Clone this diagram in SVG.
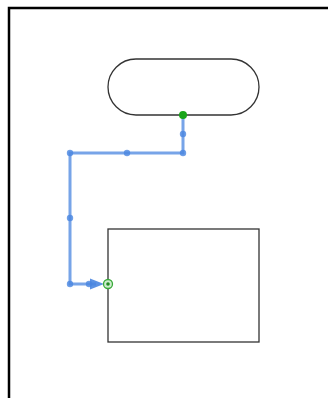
<svg xmlns="http://www.w3.org/2000/svg" width="328" height="398" viewBox="0 0 328 398">
  <defs>
    <style>
      .frame { fill: none; stroke: #000; stroke-width: 2.5; }
      .shape { fill: #fff; stroke: #333; stroke-width: 1.3; }
      .edge { fill: none; stroke: #4a86e0; stroke-opacity: 0.75; stroke-width: 3; }
      .handle { fill: #4a86e0; fill-opacity: 0.8; }
    </style>
    <marker id="arrow" markerWidth="6" markerHeight="6" refX="5" refY="3" orient="auto" markerUnits="strokeWidth">
      <path d="M0,0 L6,3 L0,6 Z" fill="#4a86e0"/>
    </marker>
  </defs>
  <rect fill="#fff" x="0" y="0" width="328" height="398"/>
  <rect class="frame" x="9" y="8" width="340" height="410"/>
  <g id="node-terminal">
    <rect class="shape" x="108" y="59" width="151" height="56" rx="28" ry="28"/>
  </g>
  <g id="node-process">
    <rect class="shape" x="108" y="229" width="151" height="113"/>
  </g>
  <g id="connectors">
    <path class="edge" d="M183,115 L183,153 L70,153 L70,284 L96,284" />
    <path d="M90,278.5 L104,284 L90,289.5 Z" fill="#4a86e0" fill-opacity="0.9"/>
    <circle class="handle" cx="183" cy="134" r="3.2"/>
    <circle class="handle" cx="183" cy="153" r="3.2"/>
    <circle class="handle" cx="127" cy="153" r="3.2"/>
    <circle class="handle" cx="70" cy="153" r="3.2"/>
    <circle class="handle" cx="70" cy="218" r="3.2"/>
    <circle class="handle" cx="70" cy="284" r="3.2"/>
    <circle class="handle" cx="89" cy="284" r="3.2"/>
    <circle cx="183" cy="115" r="4" fill="#1aa51a"/>
    <circle cx="108" cy="284" r="4.5" fill="#cdeccd" stroke="#3aaa3a" stroke-width="1.3"/>
    <circle cx="108" cy="284" r="1.8" fill="#228b22"/>
  </g>
</svg>
